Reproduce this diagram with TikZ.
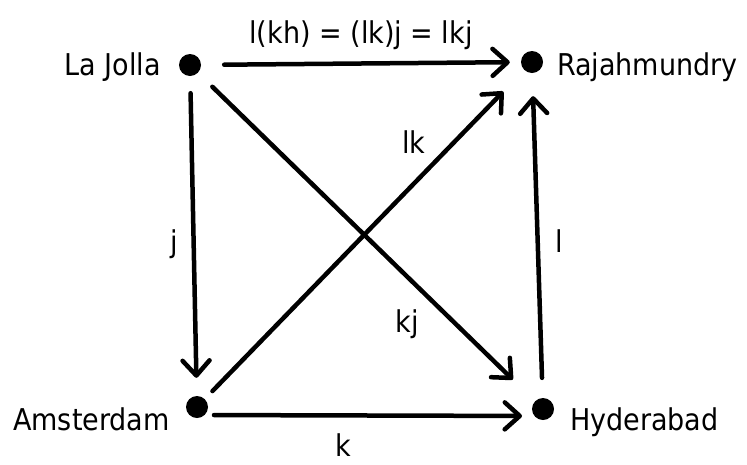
\documentclass[tikz,border=0pt]{standalone}
\usepackage{fontspec}
\setmainfont{DejaVu Sans Condensed}
\usetikzlibrary{arrows.meta}

\begin{document}
\begin{tikzpicture}[
  x=1pt, y=-1pt,
  font=\fontsize{30}{36}\selectfont,
  dot/.style={circle, fill=black, inner sep=0pt, minimum size=22pt},
  city/.style={inner sep=0pt},
  lbl/.style={inner sep=0pt, anchor=base},
  arr/.style={line width=4.5pt, line cap=round,
              -{Straight Barb[length=15pt, width=27pt, round]}},
]
\useasboundingbox (0,0) rectangle (747,464);
% ---------------- points
\node[dot] (lj) at (190,65) {};
\node[dot] (rj) at (532,62) {};
\node[dot] (am) at (197,407) {};
\node[dot] (hy) at (543,409) {};
\node[city, anchor=base east] (ljname) at (161,75) {La Jolla};
\node[city, anchor=base west] (rjname) at (557,75) {Rajahmundry};
\node[city, anchor=base east] (amname) at (170,430) {Amsterdam};
\node[city, anchor=base west] (hyname) at (570,430) {Hyderabad};
% ---------------- maps
\draw[arr, shorten <=23pt, shorten >=11pt] (lj) -- (rj);
\draw[arr, shorten <=17pt, shorten >=18pt] (lj) -- (am);
\draw[arr, shorten <=20pt, shorten >=31pt] (lj) -- (hy);
\draw[arr, shorten <=11pt, shorten >=30pt] (am) -- (rj);
\draw[arr, shorten <=17pt, shorten >=21pt] ([yshift=-8pt]am.center) -- ([yshift=-7pt]hy.center);
\draw[arr, shorten <=20pt, shorten >=23pt] (hy) -- (rj);
% ---------------- labels
\node[lbl] (ltop) at (361,43) {l(kh) = (lk)j = lkj};
\node[lbl] (lj) at (174,252) {j};
\node[lbl] (ll) at (559,252) {l};
\node[lbl] (llk) at (414,153) {lk};
\node[lbl] (lkj) at (407,332) {kj};
\node[lbl] (lk) at (343,456) {k};
\end{tikzpicture}
\end{document}
